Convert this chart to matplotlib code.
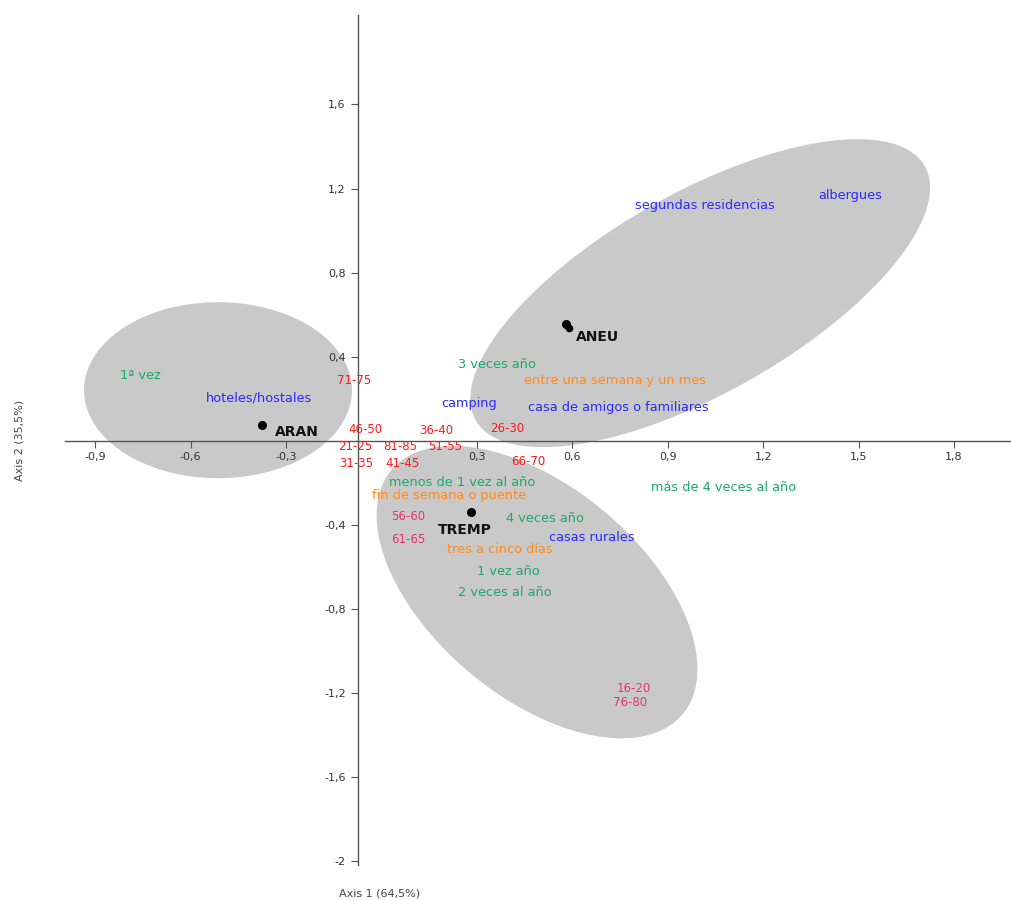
import numpy as np
import matplotlib
matplotlib.use('Agg')
import matplotlib.pyplot as plt
from matplotlib.patches import Polygon

# correspondence analysis: labels and coordinates (axis 1, axis 2)
regions = ['ARAN', 'ANEU', 'TREMP']
region_x = [-0.376, 0.580, 0.281]
region_y = [0.074, 0.555, -0.340]

freq_labels = ['1ª vez', '3 veces año', 'más de 4 veces al año',
               'menos de 1 vez al año', '4 veces año', '1 vez año',
               '2 veces al año']
freq_x = [-0.759, 0.363, 1.077, 0.253, 0.514, 0.398, 0.389]
freq_y = [0.312, 0.360, -0.221, -0.198, -0.369, -0.621, -0.721]

stay_labels = ['entre una semana y un mes', 'fin de semana o puente',
               'tres a cinco días']
stay_x = [0.734, 0.212, 0.373]
stay_y = [0.288, -0.262, -0.517]

lodging_labels = ['hoteles/hostales', 'camping', 'casa de amigos o familiares',
                  'segundas residencias', 'albergues', 'casas rurales']
lodging_x = [-0.385, 0.275, 0.744, 1.017, 1.473, 0.662]
lodging_y = [0.202, 0.179, 0.160, 1.121, 1.169, -0.460]

age_labels = ['71-75', '46-50', '36-40', '26-30', '21-25', '81-85', '51-55',
              '31-35', '41-45', '66-70', '56-60', '61-65', '16-20', '76-80']
age_x = [-0.086, -0.052, 0.171, 0.395, -0.083, 0.058, 0.200,
         -0.080, 0.065, 0.461, 0.083, 0.083, 0.794, 0.781]
age_y = [0.288, 0.055, 0.050, 0.060, -0.026, -0.026, -0.026,
         -0.107, -0.107, -0.098, -0.360, -0.469, -1.179, -1.245]
age_pink = ['56-60', '61-65', '16-20', '76-80']

xticks = [-0.9, -0.6, -0.3, 0.3, 0.6, 0.9, 1.2, 1.5, 1.8]
yticks = [-2.0, -1.6, -1.2, -0.8, -0.4, 0.4, 0.8, 1.2, 1.6]

fig = plt.figure(figsize=(10.12, 9), dpi=100)
ax = fig.add_axes([65/1012, 35/900, 945/1012, 850/900])
ax.set_xlim(-0.995, 1.976)
ax.set_ylim(-2.02, 2.026)

# grey group ellipses, size given in pixels on screen
def add_ellipse(cx, cy, a, b, angle):
  c = ax.transData.transform((cx, cy))
  t = np.linspace(0, 2*np.pi, 200)
  th = np.deg2rad(angle)
  u = a*np.cos(t)
  v = b*np.sin(t)
  px = c[0] + u*np.cos(th) - v*np.sin(th)
  py = c[1] + u*np.sin(th) + v*np.cos(th)
  pts = ax.transData.inverted().transform(np.column_stack([px, py]))
  ax.add_patch(Polygon(pts, closed=True, facecolor='#c9c9c9',
                       edgecolor='none', zorder=1))

add_ellipse(-0.514, 0.240, 134, 88, 0)
add_ellipse(1.002, 0.702, 258, 100, 29.5)
add_ellipse(0.489, -0.721, 190, 105, -40)

ax.scatter(region_x, region_y, s=30, color='black', zorder=4)
ax.scatter([region_x[1] + 0.01], [region_y[1] - 0.02], s=20, color='black', zorder=4)
offsets = [(0.04, -0.035), (0.03, -0.06), (-0.02, -0.085)]
for name, x, y, (dx, dy) in zip(regions, region_x, region_y, offsets):
  ax.text(x + dx, y + dy, name, fontsize=10, fontweight='bold',
          ha='left' if dx > 0 else 'center', va='center', color='#111111', zorder=5)

fs = 9.3
for lab, x, y in zip(freq_labels, freq_x, freq_y):
  ax.text(x, y, lab, fontsize=fs, color='#1aa86a', ha='center', va='center', zorder=5)
for lab, x, y in zip(stay_labels, stay_x, stay_y):
  ax.text(x, y, lab, fontsize=fs, color='#ff8a1e', ha='center', va='center', zorder=5)
for lab, x, y in zip(lodging_labels, lodging_x, lodging_y):
  ax.text(x, y, lab, fontsize=fs, color='#2a2aff', ha='center', va='center', zorder=5)
for lab, x, y in zip(age_labels, age_x, age_y):
  col = '#e8336e' if lab in age_pink else '#ff1a1a'
  ax.text(x, y, lab, fontsize=8.5, color=col, ha='center', va='center', zorder=5)

# axes through the origin
ax.spines['top'].set_visible(False)
ax.spines['right'].set_visible(False)
ax.spines['left'].set_position(('data', -0.075))
ax.spines['bottom'].set_position(('data', 0))
for s in ['left', 'bottom']:
  ax.spines[s].set_color('#555555')
  ax.spines[s].set_linewidth(1.0)
ax.set_xticks(xticks)
ax.set_xticklabels([('%.1f' % v).replace('.', ',') for v in xticks])
ax.set_yticks(yticks)
ax.set_yticklabels([('%g' % v).replace('.', ',') for v in yticks])
ax.tick_params(direction='out', length=5, colors='#555555', labelsize=8,
               labelcolor='#333333')
ax.patch.set_alpha(0)

fig.text(380/1012, 1 - 893/900, 'Axis 1 (64,5%)', fontsize=8, color='#444444',
         ha='center', va='center')
fig.text(20/1012, 1 - 440/900, 'Axis 2 (35,5%)', fontsize=8, color='#444444',
         ha='center', va='center', rotation=90)

fig.savefig('out.png', dpi=100, facecolor='white')
